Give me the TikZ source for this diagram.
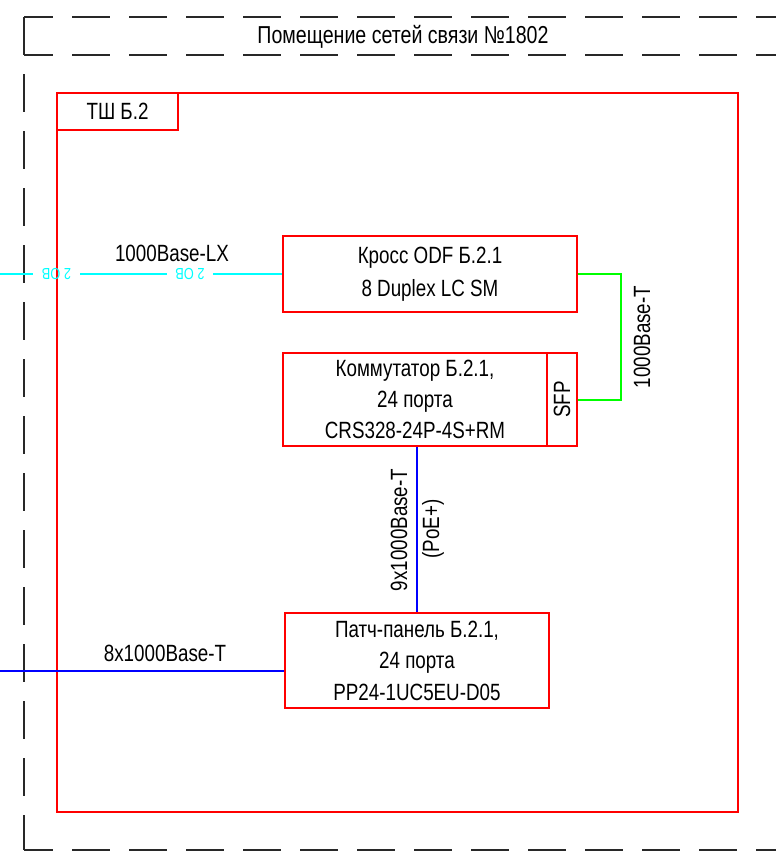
\documentclass[tikz,border=0pt]{standalone}
\usepackage{fontspec}
\setmainfont{Liberation Sans}[FakeStretch=0.8]
\usepackage{graphicx}
\definecolor{cadred}{RGB}{255,0,0}
\definecolor{cadblue}{RGB}{0,0,255}
\definecolor{cadgreen}{RGB}{0,255,0}
\definecolor{cadcyan}{RGB}{0,255,255}
\definecolor{cadblack}{RGB}{40,40,40}
\begin{document}
\begin{tikzpicture}[x=1pt,y=-1pt,
  redbox/.style={draw=cadred, line width=2.3pt, inner sep=0pt},
  txt/.style={font=\fontsize{23.5}{32}\selectfont, align=center, inner sep=0pt, text=black},
  smalltxt/.style={font=\fontsize{16}{18}\selectfont, text=cadcyan, inner sep=0pt},
  roomline/.style={draw=cadblack, line width=1.3pt, dash pattern=on 38pt off 19pt},
  cyanline/.style={draw=cadcyan, line width=1.8pt},
  greenline/.style={draw=cadgreen, line width=2pt},
  blueline/.style={draw=cadblue, line width=2pt}]
\useasboundingbox (0,0) rectangle (776,855);
% room outline
\coordinate (rtl) at (24,17);
\coordinate (rtr) at (776,17);
\coordinate (rml) at (24,55);
\coordinate (rmr) at (776,55);
\coordinate (rbl) at (24,850);
\coordinate (rbr) at (776,850);
\draw[roomline, dash phase=9pt] (rtl) -- (rtr);
\draw[roomline, dash phase=9pt] (rml) -- (rmr);
\draw[roomline, dash phase=9pt] (rbl) -- (rbr);
\draw[roomline] (rtl) -- (rbl);
\node[txt, font=\fontsize{24.5}{32}\selectfont] (room) at (403,37) {Помещение сетей связи №1802};
% cabinet
\node[redbox, minimum width=681pt, minimum height=719pt] (tsh) at (397.5,452.5) {};
\node[redbox, txt, minimum width=121pt, minimum height=37pt, anchor=north west] (tshlabel) at (tsh.north west) {ТШ Б.2};
% devices
\node[redbox, txt, minimum width=294pt, minimum height=76pt, font=\fontsize{23.5}{33}\selectfont] (odf) at (430,274) {Кросс ODF Б.2.1\\8 Duplex LC SM};
\node[redbox, txt, minimum width=264pt, minimum height=93pt, font=\fontsize{23.5}{31}\selectfont] (sw) at (415,399.5) {Коммутатор Б.2.1,\\24 порта\\CRS328-24P-4S+RM};
\node[redbox, txt, rotate=90, minimum width=93pt, minimum height=30pt] (sfp) at (562,399.5) {SFP};
\node[redbox, txt, minimum width=264pt, minimum height=95pt, font=\fontsize{23.5}{31.5}\selectfont] (pp) at (417,660.5) {Патч-панель Б.2.1,\\24 порта\\PP24-1UC5EU-D05};
% optical line
\coordinate (cyL) at (0,274);
\node[smalltxt, minimum width=47pt] (ob1) at (56.5,274.5) {\rotatebox{180}{2 ОВ}};
\node[smalltxt, minimum width=46pt] (ob2) at (190,274.5) {\rotatebox{180}{2 ОВ}};
\draw[cyanline] (cyL) -- (cyL -| ob1.west) (cyL -| ob1.east) -- (cyL -| ob2.west) (cyL -| ob2.east) -- (odf.west);
\node[txt] (lxlabel) at (172,253) {1000Base-LX};
% green uplink
\coordinate (g1) at (621,274);
\draw[greenline] (odf.east) -- (g1) |- (sfp.south);
\node[txt, rotate=90] (gtlabel) at (642,337) {1000Base-T};
% blue links
\draw[blueline] (pp.north) -- (pp.north |- sw.south);
\node[txt, rotate=90] (poelabel1) at (399,530) {9x1000Base-T};
\node[txt, rotate=90] (poelabel2) at (433,529) {(PoE+)};
\coordinate (bL) at (0,670.7);
\draw[blueline] (bL) -- (bL -| pp.west);
\node[txt] (btlabel) at (165,653) {8x1000Base-T};
\end{tikzpicture}
\end{document}
